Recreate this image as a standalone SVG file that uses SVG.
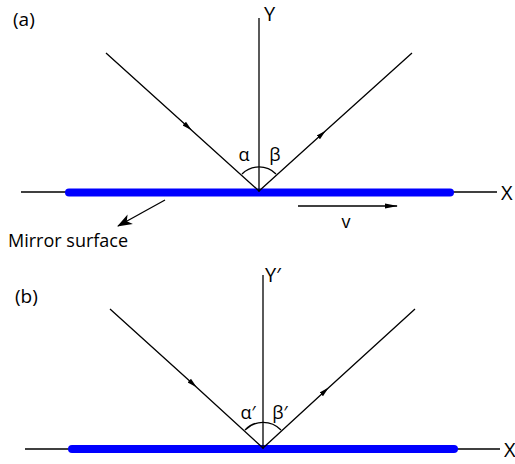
<svg xmlns="http://www.w3.org/2000/svg" width="515" height="464" viewBox="0 0 515 464">
<defs>
<marker id="ah" markerUnits="userSpaceOnUse" markerWidth="12" markerHeight="8" refX="5" refY="3" orient="auto" viewBox="0 0 12 6"><path d="M0,0.5 L10,3 L0,5.5 Z" fill="#000"/></marker>
<marker id="ae" markerUnits="userSpaceOnUse" markerWidth="14" markerHeight="8" refX="12" refY="3" orient="auto" viewBox="0 0 14 6"><path d="M0,0.6 L13,3 L0,5.4 Z" fill="#000"/></marker>
<marker id="am" markerUnits="userSpaceOnUse" markerWidth="16" markerHeight="12" refX="14" refY="6" orient="auto" viewBox="0 0 16 12"><path d="M0,0.5 L15,6 L0,11.5 L4,6 Z" fill="#000"/></marker>
</defs>
<style>
.ln{stroke:#000;stroke-width:1.3;fill:none}
.mir{stroke:#0000ff;stroke-width:8;stroke-linecap:round;fill:none}
.t{font-family:"Open Sans","Liberation Sans",sans-serif;fill:#000}
</style>
<rect width="515" height="464" fill="#fff"/>
<g id="panel-a">
<text class="t" x="13" y="26" font-size="19">(a)</text>
<g id="axis-a">
<line class="ln" x1="21" y1="192" x2="497" y2="192"/>
<line class="mir" x1="69" y1="192.5" x2="450" y2="192.5"/>
<line class="ln" x1="259" y1="18" x2="259" y2="192"/>
<text class="t" x="264" y="21" font-size="20">Y</text>
<text class="t" x="501" y="200" font-size="20">X</text>
</g>
<g id="rays-a">
<path class="ln" d="M106,53 L188,127 L259,191" marker-mid="url(#ah)"/>
<path class="ln" d="M259,191 L322,134 L412,53" marker-mid="url(#ah)"/>
<path class="ln" d="M242,174 A24,24 0 0 1 276,174"/>
<text class="t" x="244" y="161" font-size="18" text-anchor="middle">α</text>
<text class="t" x="275" y="161" font-size="18" text-anchor="middle">β</text>
</g>
<g id="mirror-label">
<line class="ln" x1="165" y1="200" x2="118" y2="226" stroke-width="2" marker-end="url(#am)"/>
<text class="t" x="8" y="247" font-size="18">Mirror surface</text>
</g>
<g id="velocity">
<line class="ln" x1="298" y1="206" x2="397" y2="206" marker-end="url(#ae)"/>
<text class="t" x="346" y="228" font-size="18" text-anchor="middle">v</text>
</g>
</g>
<g id="panel-b">
<text class="t" x="15" y="303" font-size="19">(b)</text>
<g id="axis-b">
<line class="ln" x1="25" y1="449" x2="500" y2="449"/>
<line class="mir" x1="72" y1="449" x2="454" y2="449"/>
<line class="ln" x1="263" y1="275" x2="263" y2="449"/>
<text class="t" x="265" y="282" font-size="20">Y′</text>
<text class="t" x="504" y="457" font-size="20">X</text>
</g>
<g id="rays-b">
<path class="ln" d="M110,309 L193,384 L263,448" marker-mid="url(#ah)"/>
<path class="ln" d="M263,448 L325,391 L415,309" marker-mid="url(#ah)"/>
<path class="ln" d="M245,430 A25,25 0 0 1 281,430"/>
<text class="t" x="248" y="419" font-size="18" text-anchor="middle">α′</text>
<text class="t" x="280" y="419" font-size="18" text-anchor="middle">β′</text>
</g>
</g>
</svg>
